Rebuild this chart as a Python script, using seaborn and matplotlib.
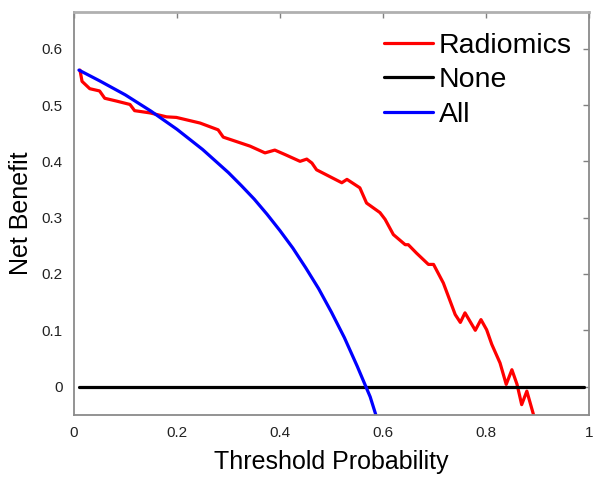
import seaborn as sns
import matplotlib.pyplot as plt
import pandas as pd

# values
radiomics_x = [0.012, 0.016, 0.031, 0.050, 0.060, 0.083, 0.109, 0.118, 0.148, 0.180,
               0.199, 0.245, 0.280, 0.290, 0.342, 0.371, 0.390, 0.410, 0.439, 0.452,
               0.462, 0.471, 0.520, 0.530, 0.555, 0.568, 0.594, 0.604, 0.620, 0.643,
               0.649, 0.665, 0.688, 0.698, 0.717, 0.740, 0.750, 0.759, 0.779, 0.790,
               0.801, 0.811, 0.827, 0.839, 0.850, 0.860, 0.869, 0.879, 0.892]
radiomics_y = [0.562, 0.542, 0.529, 0.525, 0.512, 0.507, 0.501, 0.490, 0.486, 0.479,
               0.478, 0.468, 0.456, 0.443, 0.427, 0.415, 0.420, 0.412, 0.400, 0.404,
               0.397, 0.385, 0.362, 0.368, 0.353, 0.326, 0.309, 0.297, 0.270, 0.252,
               0.252, 0.237, 0.217, 0.217, 0.184, 0.128, 0.114, 0.131, 0.100, 0.119,
               0.101, 0.075, 0.042, 0.004, 0.030, 0.004, -0.032, -0.008, -0.050]

none_x = [0.01, 0.99]
none_y = [0.0, 0.0]

all_x = [0.01, 0.05, 0.10, 0.15, 0.20, 0.25, 0.30, 0.325, 0.35, 0.375, 0.40, 0.425,
         0.45, 0.475, 0.50, 0.525, 0.55, 0.575, 0.586]
all_y = [0.562, 0.543, 0.518, 0.489, 0.457, 0.421, 0.380, 0.357, 0.333, 0.306, 0.277, 0.246,
         0.211, 0.174, 0.132, 0.087, 0.036, -0.018, -0.050]

x_ticks = [0, 0.2, 0.4, 0.6, 0.8, 1]
x_tick_labels = ['0', '0.2', '0.4', '0.6', '0.8', '1']
y_ticks = [0, 0.1, 0.2, 0.3, 0.4, 0.5, 0.6]
y_tick_labels = ['0', '0.1', '0.2', '0.3', '0.4', '0.5', '0.6']

df = pd.concat([
    pd.DataFrame({'x': radiomics_x, 'y': radiomics_y, 'model': 'Radiomics'}),
    pd.DataFrame({'x': none_x, 'y': none_y, 'model': 'None'}),
    pd.DataFrame({'x': all_x, 'y': all_y, 'model': 'All'}),
], ignore_index=True)

sns.set_style('white')
plt.rcParams['font.family'] = ['Liberation Sans', 'DejaVu Sans']

fig = plt.figure(figsize=(6, 4.84), dpi=100)
ax = fig.add_axes([0.123, 0.143, 0.859, 0.832])

sns.lineplot(data=df, x='x', y='y', hue='model', estimator=None, sort=False,
             palette={'Radiomics': '#ff0000', 'None': '#000000', 'All': '#0000ff'},
             linewidth=2.3, ax=ax)

ax.set_xlim(0, 1)
ax.set_ylim(-0.05, 0.665)
ax.set_xticks(x_ticks)
ax.set_xticklabels(x_tick_labels)
ax.set_yticks(y_ticks)
ax.set_yticklabels(y_tick_labels)
ax.tick_params(direction='in', length=4, width=1, color='#808080',
               top=True, right=True, labelsize=11, labelcolor='#222222', pad=8)
for s in ax.spines.values():
    s.set_color('#8a8a8a')
    s.set_linewidth(1.3)
ax.spines['top'].set_color('#b0b0b0')
ax.spines['top'].set_linewidth(2)

ax.set_xlabel('Threshold Probability', fontsize=18, labelpad=7, color='black')
ax.set_ylabel('Net Benefit', fontsize=18, labelpad=6, color='black')

leg = ax.legend(loc='upper right', bbox_to_anchor=(1.01, 1.005), frameon=False, fontsize=20.5,
                handlelength=1.7, handletextpad=0.2, labelspacing=0.3, borderpad=0.3)
for t in leg.get_texts():
    t.set_color('black')

fig.savefig('out.png', dpi=100)
